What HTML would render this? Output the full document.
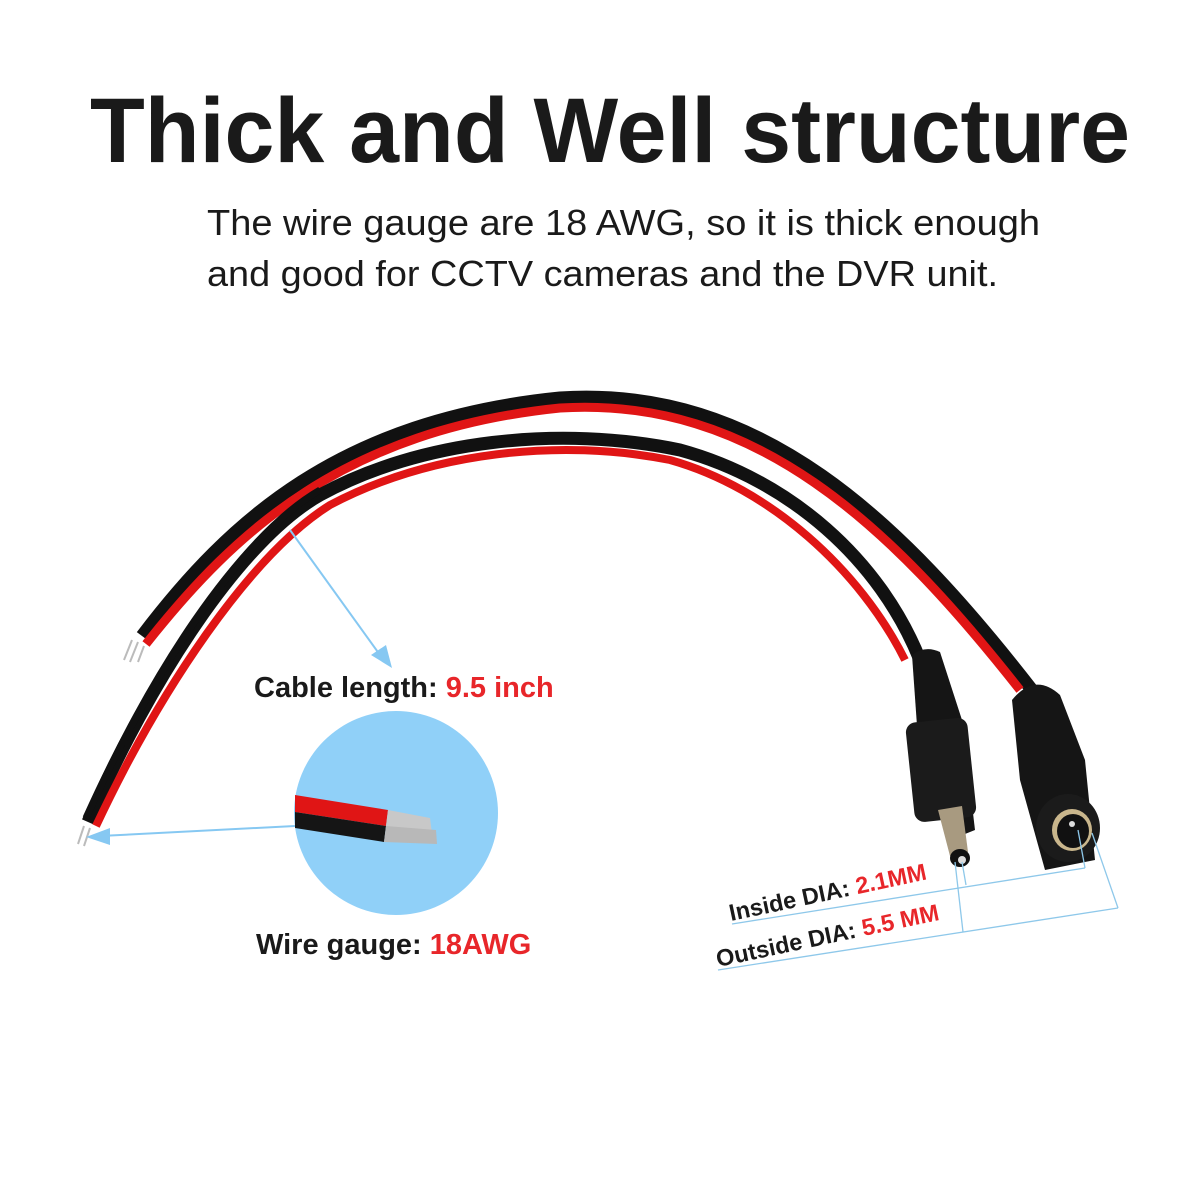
<!DOCTYPE html>
<html><head><meta charset="utf-8"><style>
html,body{margin:0;padding:0;background:#fff;}
svg{display:block;}
</style></head><body>
<svg width="1200" height="1200" viewBox="0 0 1200 1200" xmlns="http://www.w3.org/2000/svg">
<rect width="1200" height="1200" fill="#fff"/>
<text x="90" y="162" font-family="Liberation Sans, sans-serif" font-weight="bold" font-size="92" fill="#1a1a1a" textLength="1040" lengthAdjust="spacingAndGlyphs">Thick and Well structure</text>
<text x="207" y="235" font-family="Liberation Sans, sans-serif" font-size="36" fill="#1a1a1a" textLength="833" lengthAdjust="spacingAndGlyphs">The wire gauge are 18 AWG, so it is thick enough</text>
<text x="207" y="286" font-family="Liberation Sans, sans-serif" font-size="36" fill="#1a1a1a" textLength="791" lengthAdjust="spacingAndGlyphs">and good for CCTV cameras and the DVR unit.</text>

<!-- cable A (outer) -->
<path d="M142,636 C230,520 340,420 560,398 C760,385 900,520 1032,690" fill="none" stroke="#111" stroke-width="13"/>
<path d="M146,644 C236,530 345,430 560,408 C755,396 890,525 1020,690" fill="none" stroke="#e01515" stroke-width="9"/>
<!-- cable B (inner) -->
<path d="M88,822 C150,680 240,540 320,495 C420,440 560,425 680,450 C790,480 880,560 920,660" fill="none" stroke="#111" stroke-width="13"/>
<path d="M96,826 C160,690 250,555 330,505 C430,452 560,438 670,460 C770,488 860,570 905,660" fill="none" stroke="#e01515" stroke-width="8"/>
<path d="M86,818 C150,676 240,536 320,490" fill="none" stroke="#111" stroke-width="7"/>
<!-- stripped ends -->
<path d="M132,640 l-8,20 M138,642 l-8,20 M144,646 l-6,16" stroke="#bbb" stroke-width="2"/>
<path d="M84,826 l-6,18 M90,828 l-6,18" stroke="#bbb" stroke-width="2"/>

<!-- male plug -->
<path d="M912,655 Q925,645 940,652 L962,720 L975,830 L950,840 L918,740 Z" fill="#151515"/>
<rect x="910" y="720" width="62" height="100" rx="10" fill="#1b1b1b" transform="rotate(-6 940 770)"/>
<path d="M938,810 L962,806 L968,852 L950,856 Z" fill="#a89a80"/>
<ellipse cx="960" cy="858" rx="10" ry="9" fill="#111"/>
<ellipse cx="962" cy="860" rx="4" ry="4" fill="#ddd"/>
<!-- female plug -->
<path d="M1012,700 Q1035,672 1060,695 L1085,760 L1095,860 L1045,870 L1020,780 Z" fill="#151515"/>
<ellipse cx="1068" cy="828" rx="32" ry="34" fill="#1b1b1b"/>
<ellipse cx="1072" cy="830" rx="20" ry="21" fill="#c9b68c"/>
<ellipse cx="1073" cy="831" rx="16" ry="17" fill="#111"/>
<circle cx="1072" cy="824" r="3" fill="#ddd"/>

<!-- arrows -->
<g stroke="#86c8f2" stroke-width="2" fill="#86c8f2">
<line x1="290" y1="530" x2="380" y2="655"/>
<polygon points="392,668 371,655 386,645" stroke="none"/>
<line x1="295" y1="826" x2="100" y2="836"/>
<polygon points="86,837 110,828 110,845" stroke="none"/>
</g>
<circle cx="396" cy="813" r="102" fill="#90d0f8"/>
<path d="M295,795 L388,810 L386,826 L295,812 Z" fill="#e01515"/>
<path d="M295,812 L386,826 L384,842 L295,828 Z" fill="#151515"/>
<path d="M388,810 L430,818 L432,834 L386,826 Z" fill="#c8c8c8"/>
<path d="M386,826 L436,830 L437,844 L384,842 Z" fill="#b8b8b8"/>

<text x="254" y="697" font-family="Liberation Sans, sans-serif" font-weight="bold" font-size="29" fill="#1a1a1a">Cable length: <tspan fill="#e8262a">9.5 inch</tspan></text>
<text x="256" y="954" font-family="Liberation Sans, sans-serif" font-weight="bold" font-size="29" fill="#1a1a1a">Wire gauge: <tspan fill="#e8262a">18AWG</tspan></text>

<!-- dimension lines -->
<g stroke="#8ec8ea" stroke-width="1.3" fill="none">
<line x1="732" y1="924" x2="1085" y2="868"/>
<line x1="1085" y1="868" x2="1078" y2="830"/>
<line x1="966" y1="885" x2="962" y2="862"/>
<line x1="718" y1="970" x2="1118" y2="908"/>
<line x1="1118" y1="908" x2="1092" y2="833"/>
<line x1="963" y1="932" x2="955" y2="862"/>
</g>
<g font-family="Liberation Sans, sans-serif" font-weight="bold" font-size="23.5" fill="#1a1a1a">
<text transform="translate(731,921) rotate(-12)">Inside DIA: <tspan fill="#e8262a">2.1MM</tspan></text>
<text transform="translate(718,967) rotate(-12)">Outside DIA: <tspan fill="#e8262a">5.5 MM</tspan></text>
</g>
</svg>
</body></html>
